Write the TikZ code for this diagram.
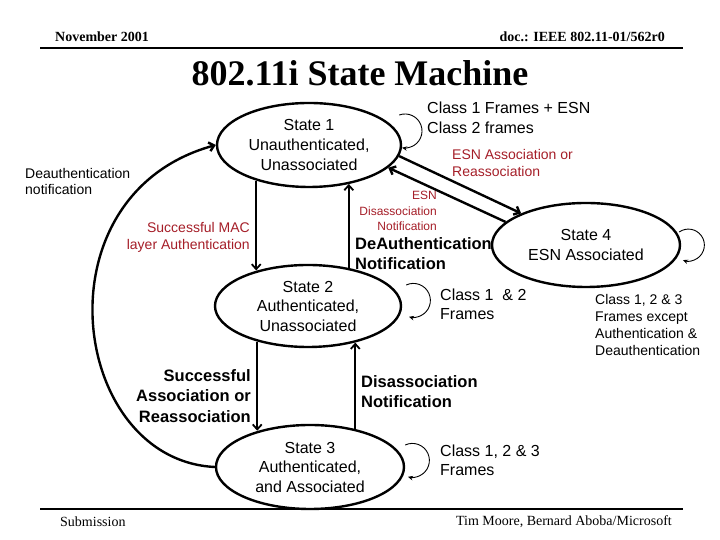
\documentclass[tikz,border=0pt]{standalone}
\usepackage{fontspec}
\setmainfont{Liberation Sans}
\newfontfamily\headfont{Liberation Serif}
\usetikzlibrary{shapes.geometric, arrows.meta}
\definecolor{labelred}{RGB}{165,30,40}
\newcommand{\fs}[2]{\fontsize{#1}{#2}\selectfont}

\begin{document}
\begin{tikzpicture}[x=1pt, y=1pt,
    state/.style={ellipse, draw, line width=2.4pt, minimum width=188pt, minimum height=84pt, inner sep=0pt, align=center, font=\fs{16}{19.5}},
    trans/.style={line width=1.8pt, -{Straight Barb[length=5pt, width=9pt]}},
    selfloop/.style={line width=0.9pt, -{Stealth[length=5pt, width=4.5pt]}},
    lbl/.style={inner sep=0pt, font=\fs{16}{19.5}},
    redlbl/.style={inner sep=0pt, text=labelred, font=\fs{14}{17}},
    boldlbl/.style={inner sep=0pt, font=\bfseries\fs{16.5}{20.5}}]
    \useasboundingbox (0,0) rectangle (720,540);

    % Intestazione
    \node[anchor=west, inner sep=0pt, font=\headfont\bfseries\fs{14}{14}] (month) at (55,503) {November 2001};
    \node[anchor=east, inner sep=0pt, font=\headfont\bfseries\fs{14}{14}] (docno) at (665,503) {doc.: IEEE 802.11-01/562r0};
    \draw[line width=2pt] (40,492) -- (683,492);
    \node[font=\headfont\bfseries\fs{36}{36}] (title) at (360,467) {802.11i State Machine};

    % Stati
    \node[state, minimum width=184pt] (s1) at (309,395) {State 1\\Unauthenticated,\\Unassociated};
    \node[state, minimum width=186pt, minimum height=82pt] (s2) at (308,234) {State 2\\Authenticated,\\Unassociated};
    \node[state] (s3) at (310,73) {State 3\\Authenticated,\\and Associated};
    \node[state] (s4) at (586,295) {State 4\\ESN Associated};

    % Transizioni verticali
    \draw[trans] (s1.214) -- (s1.214 |- s2.145);
    \draw[trans] (s2.43) -- (s2.43 |- s1.316);
    \draw[trans] (s2.215) -- (s2.215 |- s3.145);
    \draw[trans] (s3.40) -- (s3.40 |- s2.322);

    % Stato 1 <-> Stato 4
    \draw[trans, line width=2.4pt] (s1.353) -- (s4.154);
    \draw[trans, line width=2.4pt] (s4.164) -- (s1.344);

    % Deautenticazione
    \draw[trans, line width=2.4pt] (s3.west) .. controls (70,80) and (35,345) .. (s1.west);

    % Anelli
    \draw[selfloop] ([shift={(-3,30)}]s1.east) arc[start angle=110, end angle=-100, radius=17];
    \draw[selfloop] ([shift={(4,21)}]s2.east) arc[start angle=115, end angle=-105, radius=17];
    \draw[selfloop] ([shift={(0,22)}]s3.east) arc[start angle=115, end angle=-105, radius=17];
    \draw[selfloop] ([shift={(-2,13)}]s4.east) arc[start angle=125, end angle=-110, radius=16];

    % Etichette
    \node[lbl, anchor=west, align=left] (c1) at (427,422) {Class 1 Frames + ESN\\Class 2 frames};
    \node[redlbl, anchor=west, align=left] (esnassoc) at (452,376.5) {ESN Association or\\Reassociation};
    \node[redlbl, anchor=east, align=right, font=\fs{12}{15.5}] (esndis) at (437,329) {ESN\\Disassociation\\Notification};
    \node[redlbl, anchor=east, align=right] (macauth) at (250,303) {Successful MAC\\layer Authentication};
    \node[boldlbl, anchor=west, align=left] (deauth) at (355,286.5) {DeAuthentication\\Notification};
    \node[lbl, anchor=west, align=left, font=\fs{14}{16.7}] (c4) at (595,215) {Class 1, 2 \& 3\\Frames except\\Authentication \&\\Deauthentication};
    \node[lbl, anchor=west, align=left] (c2) at (440,235.5) {Class 1~ \& 2\\Frames};
    \node[boldlbl, anchor=east, align=right] (assoc) at (251,144) {Successful\\Association or\\Reassociation};
    \node[boldlbl, anchor=west, align=left] (disassoc) at (361,148.5) {Disassociation\\Notification};
    \node[lbl, anchor=west, align=left] (c3) at (440,79.5) {Class 1, 2 \& 3\\Frames};
    \node[lbl, anchor=west, align=left, font=\fs{14}{16}] (deauthnote) at (25,358) {Deauthentication\\notification};

    % Pie' di pagina
    \draw[line width=2pt] (40,31) -- (683,31);
    \node[anchor=west, inner sep=0pt, font=\headfont\fs{14}{14}] (subm) at (60,18) {Submission};
    \node[anchor=east, inner sep=0pt, font=\headfont\fs{14}{14}] (authors) at (672,18) {Tim Moore, Bernard Aboba/Microsoft};
\end{tikzpicture}
\end{document}
